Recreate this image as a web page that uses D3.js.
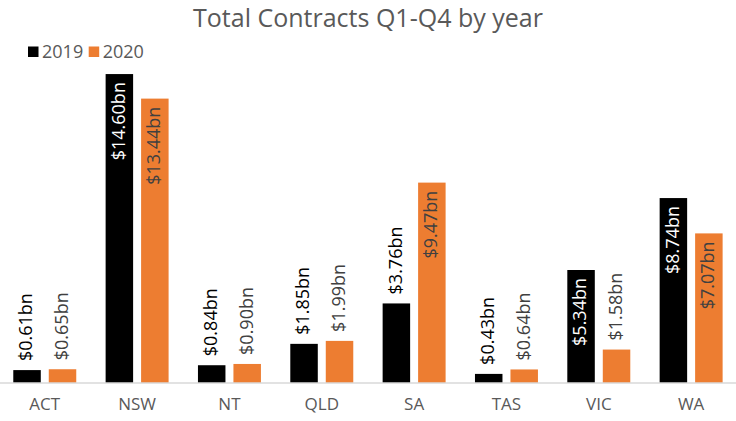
<!DOCTYPE html>
<html lang="en">
<head>
    <meta charset="UTF-8">
    <title>Total Contracts Q1-Q4 by year</title>
    <script src="https://d3js.org/d3.v7.min.js"></script>
    <style>
        * {
            margin: 0;
            padding: 0;
        }
        body {
            background: #fff;
        }
        text {
            font-family: "Open Sans", sans-serif;
        }
    </style>
</head>
<body>
    <script>
        var width = 736;
        var height = 421;

        // data (in $bn)
        var states = ['ACT', 'NSW', 'NT', 'QLD', 'SA', 'TAS', 'VIC', 'WA'];
        var years = ['2019', '2020'];
        var values2019 = [0.61, 14.60, 0.84, 1.85, 3.76, 0.43, 5.34, 8.74];
        var values2020 = [0.65, 13.44, 0.90, 1.99, 9.47, 0.64, 1.58, 7.07];
        var colors = ['#000000', '#ED7D31'];

        var baseline = 383;

        var svg = d3.select('body')
            .append('svg')
            .attr('width', width)
            .attr('height', height);

        // title
        svg.append('text')
            .attr('x', width / 2)
            .attr('y', 27)
            .attr('text-anchor', 'middle')
            .style('font-size', '25px')
            .attr('fill', '#595959')
            .text('Total Contracts Q1-Q4 by year');

        // scales
        var x0 = d3.scaleBand()
            .domain(states)
            .range([-1.4, 737.3])
            .paddingInner(0.318)
            .paddingOuter(0.159);

        var x1 = d3.scaleBand()
            .domain(years)
            .range([0, x0.bandwidth()])
            .paddingInner(0.225);

        var y = d3.scaleLinear()
            .domain([0, 16])
            .range([baseline, baseline - 16 * 21.16]);

        // build rows for drawing
        var rows = [];
        states.forEach(function (s, i) {
            rows.push({ state: s, year: '2019', value: values2019[i], k: 0 });
            rows.push({ state: s, year: '2020', value: values2020[i], k: 1 });
        });

        // bars
        svg.selectAll('.bar')
            .data(rows)
            .enter()
            .append('rect')
            .attr('class', 'bar')
            .attr('x', function (d) { return x0(d.state) + x1(d.year); })
            .attr('y', function (d) { return y(d.value); })
            .attr('width', x1.bandwidth())
            .attr('height', function (d) { return baseline - y(d.value); })
            .attr('fill', function (d) { return colors[d.k]; });

        // x axis
        var xAxis = d3.axisBottom(x0).tickSize(0).tickPadding(15);
        var gx = svg.append('g')
            .attr('transform', 'translate(0,' + baseline + ')')
            .call(xAxis);
        gx.select('.domain').remove();
        gx.append('line')
            .attr('x1', 0)
            .attr('x2', width)
            .attr('stroke', '#d9d9d9')
            .attr('stroke-width', 1.3);
        gx.selectAll('.tick text')
            .style('font-family', '"Open Sans", sans-serif')
            .style('font-size', '17px')
            .attr('fill', '#595959');

        // labels - inside end for tall bars, outside end for short
        svg.selectAll('.lbl')
            .data(rows)
            .enter()
            .append('text')
            .attr('class', 'lbl')
            .attr('transform', function (d) {
                var cx = x0(d.state) + x1(d.year) + x1.bandwidth() / 2;
                var inside = d.value > 5;
                var ty = inside ? y(d.value) + 8 : y(d.value) - 9;
                return 'translate(' + cx + ',' + ty + ') rotate(-90)';
            })
            .attr('text-anchor', function (d) { return d.value > 5 ? 'end' : 'start'; })
            .attr('dy', '0.3em')
            .style('font-size', '18px')
            .attr('fill', function (d) {
                if (d.k == 0) return d.value > 5 ? '#ffffff' : '#000000';
                return '#404040';
            })
            .text(function (d) { return '$' + d.value.toFixed(2) + 'bn'; });

        // legend
        var legend = svg.selectAll('.legend')
            .data(years)
            .enter()
            .append('g')
            .attr('class', 'legend')
            .attr('transform', function (d, i) { return 'translate(' + (28 + i * 60.7) + ',46.5)'; });

        legend.append('rect')
            .attr('width', 10.5)
            .attr('height', 10.5)
            .attr('fill', function (d, i) { return colors[i]; });

        legend.append('text')
            .attr('x', 14)
            .attr('y', 11)
            .style('font-size', '18px')
            .attr('fill', '#595959')
            .text(function (d) { return d; });
    </script>
</body>
</html>
